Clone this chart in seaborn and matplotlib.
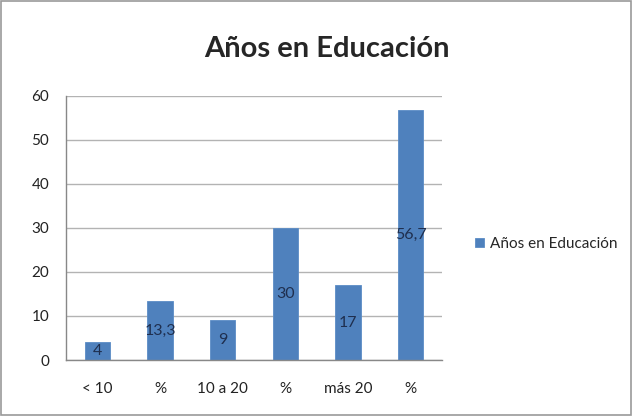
import matplotlib

matplotlib.use("Agg")
import matplotlib.pyplot as plt
import pandas as pd
import seaborn as sns
from matplotlib.patches import Rectangle

# data
etiquetas = ["< 10", "%", "10 a 20", "%", "más 20", "%"]
valores = [4, 13.3, 9, 30, 17, 56.7]
textos = ["4", "13,3", "9", "30", "17", "56,7"]
serie = "Años en Educación"

BLUE = "#4f81bd"
GRID = "#b3b3b3"

sns.set_theme(style="white")
plt.rcParams["font.family"] = ["Lato", "DejaVu Sans"]

df = pd.DataFrame({"pos": range(len(valores)), "valor": valores, "serie": serie})

fig = plt.figure(figsize=(6.32, 4.16), dpi=100)
ax = fig.add_axes([0.1044, 0.1346, 0.595, 0.635])

sns.barplot(data=df, x="pos", y="valor", hue="serie", palette=[BLUE],
            saturation=1, width=0.4, edgecolor="#5b8cc6", linewidth=0.6, ax=ax)

ax.bar_label(ax.containers[0], labels=textos, label_type="center",
             fontsize=11.5, color="#1f2f4f")

ax.set_ylim(0, 60)
ax.set_yticks(range(0, 61, 10))
ax.set_xlim(-0.5, len(valores) - 0.5)
ax.set_xticks(range(len(valores)))
ax.set_xticklabels(etiquetas)
ax.set_xlabel(""); ax.set_ylabel("")
ax.yaxis.grid(True, color=GRID, lw=1)
ax.set_axisbelow(True)
ax.tick_params(axis="both", labelsize=11, colors="#222222", length=0)
ax.tick_params(axis="x", pad=16)
ax.tick_params(axis="y", pad=12)
ax.set_xticks([i - 0.5 for i in range(len(valores) + 1)], minor=True)
ax.tick_params(axis="x", which="minor", length=5, color="#888888", direction="out")
for s in ["top", "right"]:
    ax.spines[s].set_visible(False)
for s in ["left", "bottom"]:
    ax.spines[s].set_color("#888888")
    ax.spines[s].set_linewidth(1)

ax.set_title(serie, fontsize=21, fontweight="bold", pad=28, x=0.694)

ax.legend(loc="center left", bbox_to_anchor=(1.05, 0.44), frameon=False,
          fontsize=11, handlelength=0.6, handleheight=0.6, handletextpad=0.4)

fig.patches.append(Rectangle((0.002, 0.003), 0.996, 0.994, transform=fig.transFigure,
                             fill=False, edgecolor="#999999", lw=1.2))

fig.savefig("out.png", dpi=100)
